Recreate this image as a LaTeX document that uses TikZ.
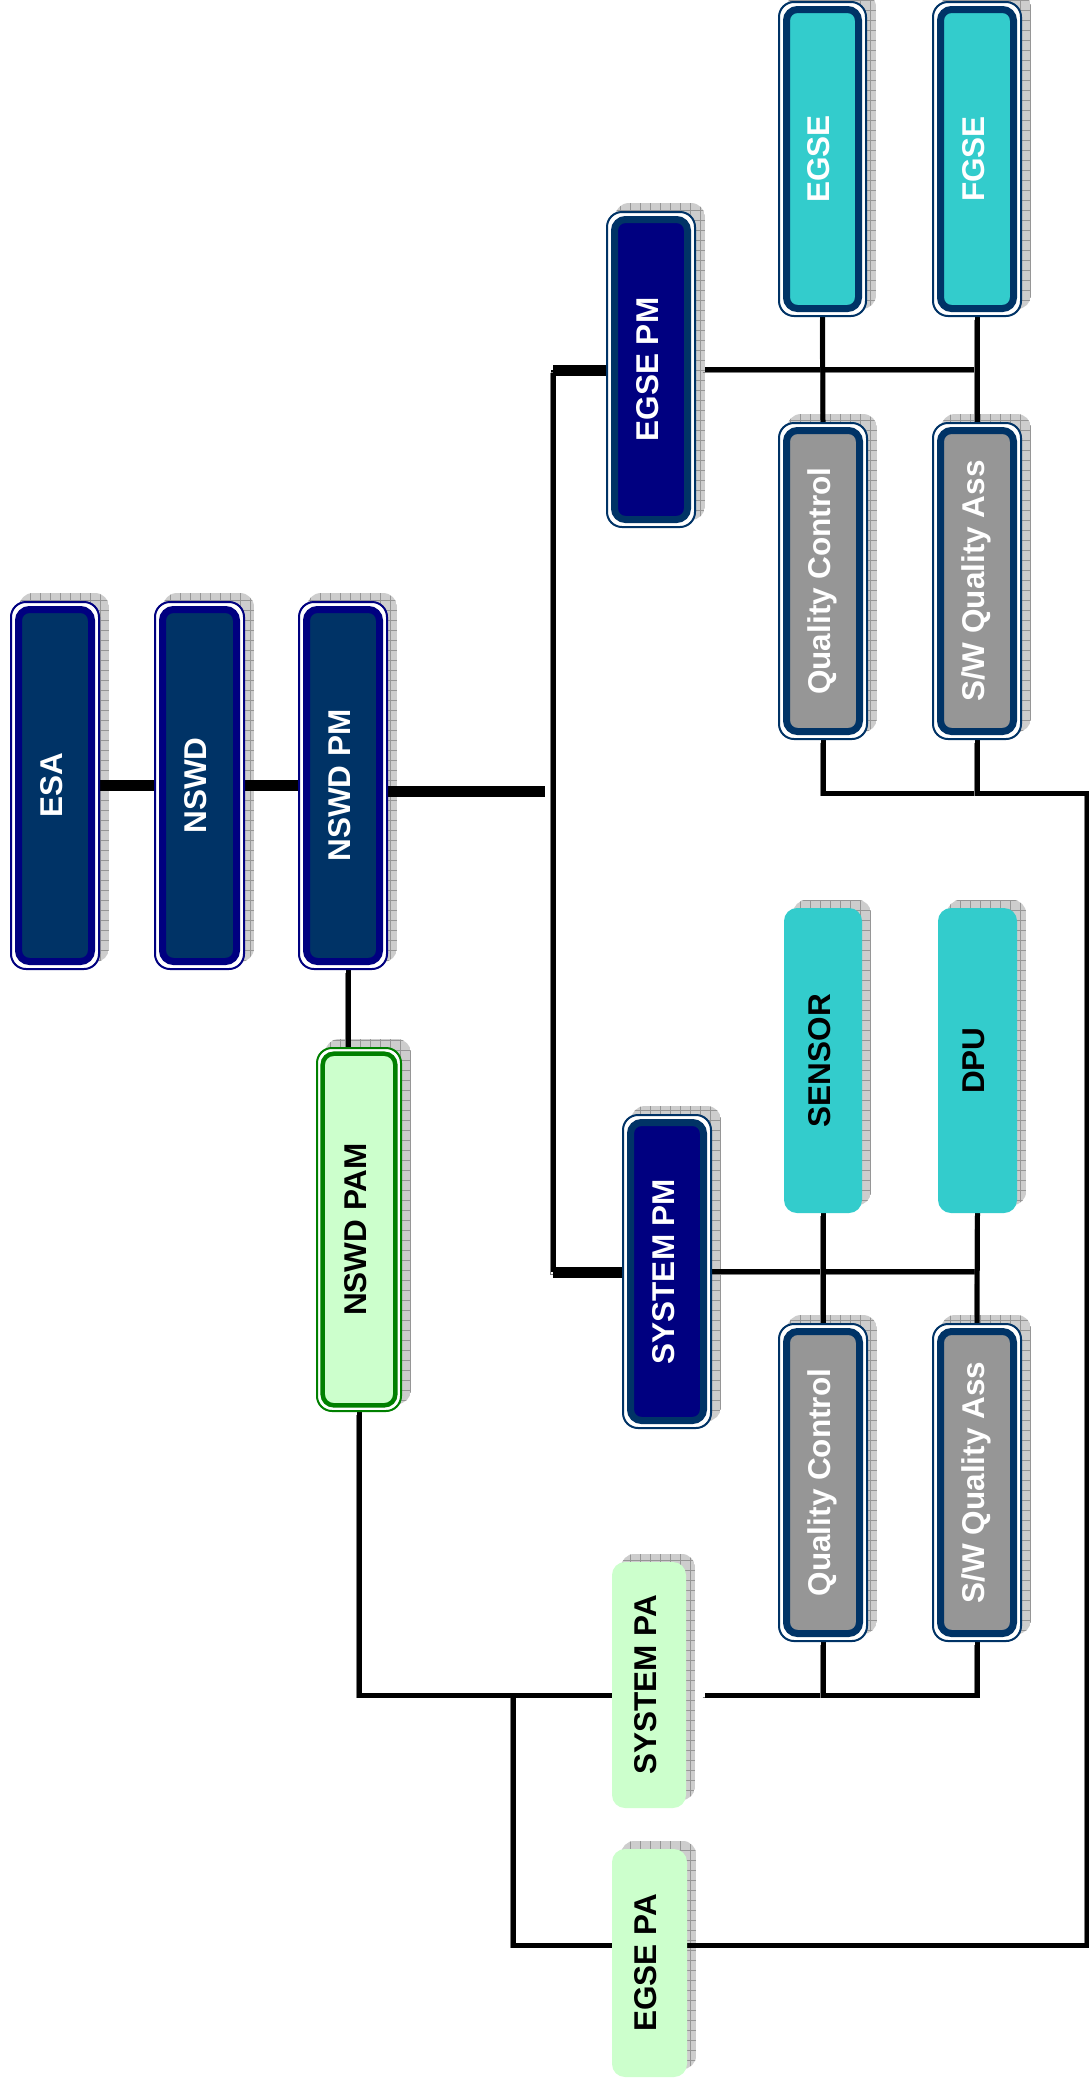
\documentclass[tikz,border=0pt]{standalone}
\usepackage{fontspec}
\setmainfont{Liberation Sans}
\usepackage{graphicx}

\definecolor{navyA}{RGB}{0,0,128}
\definecolor{deepblue}{RGB}{0,51,102}
\definecolor{tealfill}{RGB}{51,204,204}
\definecolor{qagray}{RGB}{150,150,150}
\definecolor{mintfill}{RGB}{204,255,204}
\definecolor{greenring}{RGB}{0,128,0}
\definecolor{shadefill}{RGB}{205,205,205}
\definecolor{shadegrid}{RGB}{150,150,150}
\definecolor{wireshade}{RGB}{128,128,128}

\pgfdeclarelayer{paper}
\pgfdeclarelayer{shadow}
\pgfdeclarelayer{wires}
\pgfsetlayers{paper,shadow,wires,main}

\newcommand\orgfont{\fontsize{31.5}{36}\selectfont\bfseries}
\newcommand\vlabel[1]{\rotatebox{90}{\strut #1}}

\tikzset{
  orgbase/.style={rectangle, inner sep=0pt, font=\orgfont, align=center},
  % thin outer ring, white gap, heavy inner ring and filled face
  dblbox/.style 2 args={orgbase, draw=#1, line width=2pt, fill=white,
    rounded corners=15pt,
    path picture={\draw[#1, line width=7pt, fill=#2, rounded corners=11pt]
      ([shift={(7.5,7.5)}]path picture bounding box.north west) rectangle
      ([shift={(-7.5,-7.5)}]path picture bounding box.south east);}},
  topbox/.style={dblbox={navyA}{deepblue}, text=white},
  pmbox/.style={dblbox={deepblue}{navyA}, text=white},
  qabox/.style={dblbox={deepblue}{qagray}, text=white},
  gsebox/.style={dblbox={deepblue}{tealfill}, text=white},
  pambox/.style={orgbase, draw=greenring, line width=2pt, fill=white,
    rounded corners=15pt, text=black,
    path picture={\draw[greenring, line width=4.5pt, fill=mintfill, rounded corners=11pt]
      ([shift={(5.7,5.7)}]path picture bounding box.north west) rectangle
      ([shift={(-5.7,-5.7)}]path picture bounding box.south east);}},
  hwbox/.style={orgbase, fill=tealfill, rounded corners=13pt, text=black},
  pabox/.style={orgbase, fill=mintfill, rounded corners=13pt, text=black},
  wire/.style={draw=black, line width=5pt,
    preaction={draw=wireshade, transform canvas={shift={(-2.5pt,-2.5pt)}}}},
  thickwire/.style={wire, line width=11pt}
}

% #1 style, #2 name, #3/#4 top-left corner, #5/#6 bottom-right corner, #7 label
\newcommand\orgnode[7][]{%
  \node[#1, minimum width={#5-#3-2}, minimum height={#6-#4-2}] (#2)
    at ({(#3+#5)/2},{(#4+#6)/2}) {\vlabel{#7}};
  \begin{pgfonlayer}{shadow}
    \begin{scope}
      \clip[rounded corners=14pt] ([shift={(9,-8)}]#2.north west) rectangle
        ([shift={(9,-8)}]#2.south east);
      \fill[shadefill] ([shift={(9,-8)}]#2.north west) rectangle
        ([shift={(9,-8)}]#2.south east);
      \draw[shadegrid, line width=0.6pt, step=10pt]
        ([shift={(9,-8)}]#2.north west) grid ([shift={(9,-8)}]#2.south east);
    \end{scope}
  \end{pgfonlayer}}

\begin{document}
\begin{tikzpicture}[x=1pt, y=-1pt]
  \useasboundingbox (0,0) rectangle (1089,2091);
  \begin{pgfonlayer}{paper}
    \fill[white] (0,0) rectangle (1089,2091);
  \end{pgfonlayer}

  % management chain
  \orgnode[topbox]{esa}{10}{601}{100}{970}{ESA}
  \orgnode[topbox]{nswd}{154}{601}{245}{970}{NSWD}
  \orgnode[topbox]{nswdpm}{298}{601}{388}{970}{NSWD PM}
  \orgnode[pambox]{nswdpam}{316}{1047}{402}{1412}{NSWD PAM}

  % project managers
  \orgnode[pmbox]{egsepm}{606}{211}{696}{528}{EGSE PM}
  \orgnode[pmbox]{syspm}{622}{1114}{712}{1429}{SYSTEM PM}

  % EGSE branch
  \orgnode[gsebox]{egse}{778}{1}{867}{317}{EGSE}
  \orgnode[gsebox]{fgse}{932}{1}{1022}{317}{FGSE}
  \orgnode[qabox]{qc1}{778}{422}{868}{740}{Quality Control}
  \orgnode[qabox]{swqa1}{932}{422}{1022}{740}{S/W Quality Ass}

  % system branch
  \orgnode[hwbox]{sensor}{783}{907}{863}{1214}{SENSOR}
  \orgnode[hwbox]{dpu}{937}{907}{1018}{1214}{DPU}
  \orgnode[qabox]{qc2}{778}{1323}{868}{1642}{Quality Control}
  \orgnode[qabox]{swqa2}{932}{1323}{1022}{1642}{S/W Quality Ass}

  % product assurance
  \orgnode[pabox]{syspa}{611}{1561}{687}{1809}{SYSTEM PA}
  \orgnode[pabox]{egsepa}{611}{1848}{688}{2078}{EGSE PA}

  % junction points of the bus lines
  \coordinate (hubin) at (545,791);
  \coordinate (trunktop) at (553,370);
  \coordinate (trunkbot) at (553,1272);
  \coordinate (rc1) at (1087,793);
  \coordinate (rc2) at (1087,1945);
  \coordinate (pabus) at (705,1695);
  \coordinate (pajoin) at (513,1695);

  \begin{pgfonlayer}{wires}
    \draw[thickwire] (esa.east) -- (nswd.west);
    \draw[thickwire] (nswd.east) -- (nswdpm.west);
    \draw[thickwire] (nswdpm.east |- hubin) -- (hubin);
    \draw[wire] (trunktop) -- (trunkbot);
    \draw[thickwire] (trunktop) -- (egsepm.west |- trunktop);
    \draw[thickwire] (trunkbot) -- (syspm.west |- trunkbot);

    \draw[wire] ([xshift=9pt]egsepm.east) -- (fgse.south |- egsepm.east);
    \draw[wire] (egse.south) -- (qc1.north);
    \draw[wire] (fgse.south) -- (swqa1.north);
    \draw[wire] (qc1.south) |- (rc1) -- (rc2) -- (egsepa.east |- rc2);
    \draw[wire] (swqa1.south) -- (swqa1.south |- rc1);

    \draw[wire] (syspm.east) -- (dpu.south |- syspm.east);
    \draw[wire] (sensor.south) -- (qc2.north);
    \draw[wire] (dpu.south) -- (swqa2.north);
    \draw[wire] (pabus) -| (swqa2.south);
    \draw[wire] (qc2.south) -- (qc2.south |- pabus);

    \draw[wire] ([xshift=5pt]nswdpm.south) -- ([xshift=5pt]nswdpm.south |- nswdpam.north);
    \draw[wire] (nswdpam.south) |- (syspa.west |- pabus);
    \draw[wire] (pajoin) |- (egsepa.west |- rc2);
  \end{pgfonlayer}
\end{tikzpicture}
\end{document}
